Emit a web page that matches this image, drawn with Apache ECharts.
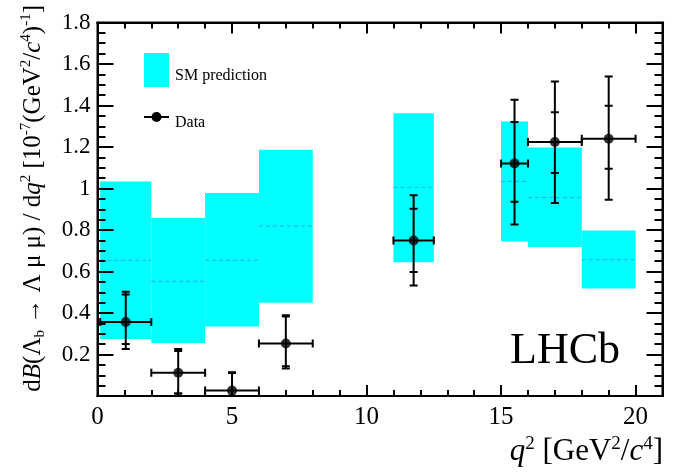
<!DOCTYPE html>
<html><head><meta charset="utf-8">
<script src="https://cdn.jsdelivr.net/npm/echarts@6/dist/echarts.min.js"></script>
<style>html,body{margin:0;padding:0;background:#fff}#c{width:698px;height:472px}</style>
</head><body><div id="c"></div>
<script>
// ---- data ----
const binLow   = [0.1, 2, 4, 6, 11, 15, 16, 18];
const binHigh  = [2, 4, 6, 8, 12.5, 16, 18, 20];
const smCentral = [0.654, 0.553, 0.654, 0.819, 1.005, 1.034, 0.956, 0.657];
const smMin     = [0.275, 0.256, 0.335, 0.449, 0.644, 0.745, 0.718, 0.518];
const smMax     = [1.034, 0.858, 0.978, 1.187, 1.363, 1.323, 1.198, 0.797];
const dataX    = [1.05, 3, 5, 7, 11.75, 15.5, 17, 19];
const dataY    = [0.357, 0.112, 0.026, 0.253, 0.749, 1.121, 1.224, 1.240];
const statUp   = [0.132, 0.105, 0.085, 0.130, 0.154, 0.199, 0.144, 0.159];
const statDown = [0.106, 0.100, 0.060, 0.110, 0.151, 0.185, 0.149, 0.145];
const totUp    = [0.145, 0.115, 0.089, 0.136, 0.218, 0.307, 0.292, 0.300];
const totDown  = [0.130, 0.100, 0.060, 0.121, 0.217, 0.295, 0.294, 0.294];
const xTickLabels = [0, 5, 10, 15, 20];
const yTickLabels = [0.2, 0.4, 0.6, 0.8, 1, 1.2, 1.4, 1.6, 1.8];

const SERIF = "'Liberation Serif','Times New Roman',serif";
const smData = binLow.map((l, i) => [l, binHigh[i], smMin[i], smMax[i], smCentral[i]]);
const errData = dataX.map((x, i) => [x, dataY[i], binLow[i], binHigh[i], statUp[i], statDown[i], totUp[i], totDown[i]]);
const markerData = dataX.map((x, i) => [x, dataY[i]]);

const G = {left: 97.5, right: 35.5, top: 22.5, bottom: 76};
const black = '#000';
function xAx(grid, pos, interval, len, labels) {
  return {
    type: 'value', gridIndex: grid, position: pos, min: 0, max: 21, interval: interval, z: 10,
    axisLine: {show: true, onZero: false, lineStyle: {color: black, width: 2}},
    axisTick: {show: true, inside: true, length: len, lineStyle: {color: black, width: 2}},
    axisLabel: {show: labels, fontFamily: SERIF, fontSize: 25, color: black, margin: 9,
      formatter: v => xTickLabels.includes(v) ? String(v) : ''},
    splitLine: {show: false}
  };
}
function yAx(grid, pos, labels, show) {
  return {
    type: 'value', gridIndex: grid, position: pos, min: 0, max: 1.8, interval: 0.2, show: show, z: 10,
    axisLine: {show: true, onZero: false, lineStyle: {color: black, width: 2}},
    axisTick: {show: true, inside: true, length: 16, lineStyle: {color: black, width: 2}},
    minorTick: {show: true, splitNumber: 4, length: 8, lineStyle: {color: black, width: 2}},
    axisLabel: {show: labels, fontFamily: SERIF, fontSize: 23, color: black, margin: 7,
      formatter: v => { const r = Math.round(v * 10) / 10; return yTickLabels.includes(r) ? String(r) : ''; }},
    splitLine: {show: false}, minorSplitLine: {show: false}
  };
}

const chart = echarts.init(document.getElementById('c'), null, {renderer: 'canvas'});
chart.setOption({
  animation: false,
  backgroundColor: '#fff',
  grid: [
    Object.assign({show: true, borderColor: black, borderWidth: 2, backgroundColor: 'transparent'}, G),
    Object.assign({show: false}, G)
  ],
  xAxis: [xAx(0, 'bottom', 5, 11, true), xAx(0, 'top', 5, 11, false),
          xAx(1, 'bottom', 1, 6, false), xAx(1, 'top', 1, 6, false)],
  yAxis: [yAx(0, 'left', true, true), yAx(0, 'right', false, true), yAx(1, 'left', false, false)],
  series: [
    {
      type: 'custom', xAxisIndex: 0, yAxisIndex: 0, data: smData, z: 1, clip: true,
      renderItem: function (params, api) {
        const p0 = api.coord([api.value(0), api.value(3)]);
        const p1 = api.coord([api.value(1), api.value(2)]);
        const pc = api.coord([api.value(0), api.value(4)]);
        return {type: 'group', children: [
          {type: 'rect', shape: {x: p0[0], y: p0[1], width: p1[0] - p0[0], height: p1[1] - p0[1]},
           style: {fill: '#00ffff'}},
          {type: 'line', shape: {x1: p0[0], y1: pc[1], x2: p1[0], y2: pc[1]},
           style: {stroke: '#3d9bff', lineWidth: 1, lineDash: [4, 3]}}
        ]};
      }
    },
    {
      type: 'custom', xAxisIndex: 0, yAxisIndex: 0, data: errData, z: 3, clip: true,
      renderItem: function (params, api) {
        const x = api.value(0), y = api.value(1);
        const c = api.coord([x, y]);
        const xl = api.coord([api.value(2), y])[0];
        const xh = api.coord([api.value(3), y])[0];
        const su = api.coord([x, y + api.value(4)])[1];
        const sd = api.coord([x, y - api.value(5)])[1];
        const tu = api.coord([x, y + api.value(6)])[1];
        const td = api.coord([x, y - api.value(7)])[1];
        const st = {stroke: black, lineWidth: 2};
        const L = (x1, y1, x2, y2) => ({type: 'line', shape: {x1, y1, x2, y2}, style: st});
        const cw = 4, ch = 4;
        return {type: 'group', children: [
          L(xl, c[1], xh, c[1]), L(xl, c[1] - ch, xl, c[1] + ch), L(xh, c[1] - ch, xh, c[1] + ch),
          L(c[0], tu, c[0], td),
          L(c[0] - cw, su, c[0] + cw, su), L(c[0] - cw, sd, c[0] + cw, sd),
          L(c[0] - cw, tu, c[0] + cw, tu), L(c[0] - cw, td, c[0] + cw, td)
        ]};
      }
    },
    {
      type: 'scatter', xAxisIndex: 0, yAxisIndex: 0, data: markerData, z: 4,
      symbol: 'circle', symbolSize: 10, itemStyle: {color: black}
    }
  ],
  graphic: [
    {type: 'rect', left: 144, top: 53, shape: {width: 25, height: 34}, style: {fill: '#00ffff'}},
    {type: 'text', x: 175, y: 76, style: {text: 'SM prediction', font: "16px " + SERIF, fill: black, verticalAlign: 'middle'}},
    {type: 'line', shape: {x1: 144, y1: 117, x2: 169, y2: 117}, style: {stroke: black, lineWidth: 2}},
    {type: 'circle', shape: {cx: 156.5, cy: 117, r: 5}, style: {fill: black}},
    {type: 'text', x: 175, y: 123, style: {text: 'Data', font: "16px " + SERIF, fill: black, verticalAlign: 'middle'}},
    {type: 'text', x: 620, y: 351, style: {text: 'LHCb', font: "44px " + SERIF, fill: black, align: 'right', verticalAlign: 'middle'}},
    {type: 'text', x: 663, y: 452, style: {
      text: '{i|q}{s|2} [GeV{s|2}/{i|c}{s|4}]', align: 'right', verticalAlign: 'middle', fill: black,
      font: "31px " + SERIF,
      rich: {
        i: {fontSize: 31, fontFamily: SERIF, fontStyle: 'italic', lineHeight: 34},
        s: {fontSize: 19, fontFamily: SERIF, verticalAlign: 'top', lineHeight: 19}
      }}},
    {type: 'text', x: 33, y: 5, rotation: Math.PI / 2, style: {
      text: 'd{i|B}(Λ{b|b} → Λ μ μ) / d{i|q}{s|2} [10{s|-7}(GeV{s|2}/{i|c}{s|4}){s|-1}]',
      align: 'right', verticalAlign: 'middle', fill: black,
      font: "25px " + SERIF,
      rich: {
        i: {fontSize: 25, fontFamily: SERIF, fontStyle: 'italic', lineHeight: 29},
        s: {fontSize: 15, fontFamily: SERIF, verticalAlign: 'top', lineHeight: 15},
        b: {fontSize: 15, fontFamily: SERIF, verticalAlign: 'bottom', lineHeight: 15}
      }}}
  ]
});
</script></body></html>
